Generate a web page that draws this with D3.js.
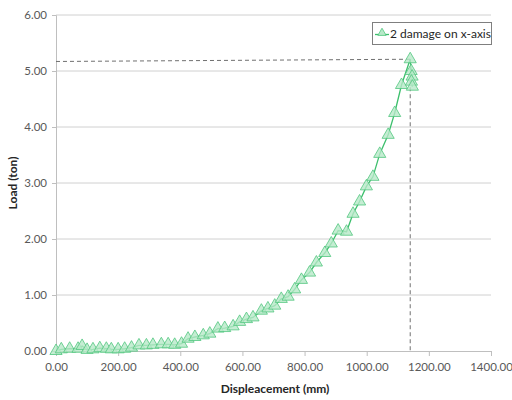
<!DOCTYPE html>
<html>
<head>
<meta charset="utf-8">
<script src="https://cdn.jsdelivr.net/npm/d3@7"></script>
<style>
  body { margin: 0; background: #fff; }
  svg text { font-family: Lato, "Open Sans", sans-serif; }
</style>
</head>
<body>
<svg id="chart" width="512" height="400"></svg>
<script>
// data: displacement (mm) vs load (ton)
const displacement = [0, 17, 44, 71, 84, 100, 119, 141, 162, 178, 200, 221, 243, 267, 291, 312, 339, 361, 382, 404,
  425, 447, 474, 495, 521, 543, 570, 591, 613, 634, 661, 682, 704, 725, 747, 768, 790, 816, 838, 865,
  886, 908, 935, 956, 977, 999, 1020, 1042, 1069, 1090, 1112, 1140, 1143, 1146, 1144, 1147];
const load = [0.00, 0.03, 0.04, 0.04, 0.09, 0.02, 0.03, 0.05, 0.04, 0.03, 0.03, 0.04, 0.06, 0.10, 0.10, 0.11, 0.12, 0.12, 0.11, 0.13,
  0.22, 0.25, 0.28, 0.31, 0.40, 0.41, 0.44, 0.52, 0.57, 0.60, 0.72, 0.76, 0.81, 0.93, 0.97, 1.10, 1.27, 1.40, 1.58, 1.75,
  1.92, 2.15, 2.13, 2.45, 2.67, 2.94, 3.11, 3.52, 3.86, 4.25, 4.75, 5.21, 5.00, 4.90, 4.81, 4.72];
const seriesName = "2 damage on x-axis";
const xTicks = [0, 200, 400, 600, 800, 1000, 1200, 1400];
const yTicks = [0, 1, 2, 3, 4, 5, 6];
// dashed guide lines (peak)
const peakX = 1140;
const guideStartLoad = 5.17;
const peakLoad = 5.21;

const data = displacement.map((d, i) => ({ x: d, y: load[i] }));

const svg = d3.select("#chart");
const plotLeft = 56, plotRight = 491, plotTop = 15, plotBottom = 351;

const x = d3.scaleLinear().domain([0, 1400]).range([plotLeft, plotRight]);
const y = d3.scaleLinear().domain([0, 6]).range([plotBottom, plotTop]);

const textColor = "#595959";
const gridColor = "#d0d0d0";

// gridlines
svg.append("g")
  .selectAll("line")
  .data(yTicks.filter(d => d > 0))
  .enter().append("line")
  .attr("x1", plotLeft).attr("x2", plotRight)
  .attr("y1", d => y(d)).attr("y2", d => y(d))
  .attr("stroke", gridColor).attr("stroke-width", 1);

// y axis
const yAxis = svg.append("g")
  .attr("transform", `translate(${plotLeft},0)`)
  .call(d3.axisLeft(y).tickValues(yTicks).tickFormat(d3.format(".2f")).tickSize(4).tickPadding(5));

// x axis
const xAxis = svg.append("g")
  .attr("transform", `translate(0,${plotBottom})`)
  .call(d3.axisBottom(x).tickValues(xTicks).tickFormat(d3.format(".2f")).tickSize(5).tickPadding(7));

[xAxis, yAxis].forEach(g => {
  g.select(".domain").attr("stroke", "#bfbfbf");
  g.selectAll(".tick line").attr("stroke", "#bfbfbf");
  g.selectAll(".tick text").attr("fill", textColor).attr("font-size", 11.5);
});

// dashed guides
svg.append("line")
  .attr("x1", x(0)).attr("y1", y(guideStartLoad))
  .attr("x2", x(peakX)).attr("y2", y(peakLoad))
  .attr("stroke", "#707070").attr("stroke-dasharray", "4,3");
svg.append("line")
  .attr("x1", x(peakX)).attr("y1", y(peakLoad))
  .attr("x2", x(peakX)).attr("y2", y(0))
  .attr("stroke", "#707070").attr("stroke-dasharray", "4,3");

// series line
const line = d3.line().x(d => x(d.x)).y(d => y(d.y));
svg.append("path")
  .datum(data)
  .attr("d", line)
  .attr("fill", "none")
  .attr("stroke", "#3cbf6c")
  .attr("stroke-width", 1.3);

// triangle markers
const tri = d3.symbol().type(d3.symbolTriangle).size(64);
svg.append("g")
  .selectAll("path")
  .data(data)
  .enter().append("path")
  .attr("d", tri)
  .attr("transform", d => `translate(${x(d.x)},${y(d.y)})`)
  .attr("fill", "#b7e8c8")
  .attr("fill-opacity", 0.8)
  .attr("stroke", "#52c77f")
  .attr("stroke-width", 0.8);

// axis titles
svg.append("text")
  .attr("x", 275).attr("y", 393)
  .attr("text-anchor", "middle")
  .attr("font-size", 12).attr("font-weight", "bold")
  .attr("fill", "#262626")
  .text("Displeacement (mm)");

svg.append("text")
  .attr("transform", "translate(17,183) rotate(-90)")
  .attr("text-anchor", "middle")
  .attr("font-size", 12).attr("font-weight", "bold")
  .attr("fill", "#262626")
  .text("Load (ton)");

// legend
const legend = svg.append("g");
legend.append("rect")
  .attr("x", 372.5).attr("y", 22.5)
  .attr("width", 119).attr("height", 22)
  .attr("fill", "#fff").attr("stroke", "#7f7f7f");
legend.append("line")
  .attr("x1", 375).attr("x2", 389).attr("y1", 34.5).attr("y2", 34.5)
  .attr("stroke", "#3cbf6c").attr("stroke-width", 1.3);
legend.append("path")
  .attr("d", d3.symbol().type(d3.symbolTriangle).size(30)())
  .attr("transform", "translate(382,33)")
  .attr("fill", "#b7e8c8").attr("stroke", "#52c77f").attr("stroke-width", 0.8);
legend.append("text")
  .attr("x", 390).attr("y", 38)
  .attr("font-size", 12)
  .attr("fill", "#262626")
  .text(seriesName);
</script>
</body>
</html>
